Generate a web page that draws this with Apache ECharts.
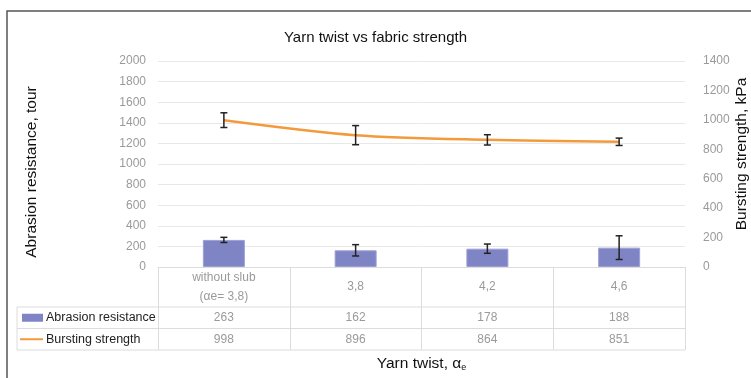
<!DOCTYPE html>
<html>
<head>
<meta charset="utf-8">
<script src="https://cdn.jsdelivr.net/npm/echarts@6/dist/echarts.min.js"></script>
<style>
  html, body { margin: 0; padding: 0; background: #fff; }
  #chart { width: 751px; height: 378px; }
</style>
</head>
<body>
<div id="chart"></div>
<script>
// Yarn twist categories and measured values
var categories = ['without slub\n(αe= 3,8)', '3,8', '4,2', '4,6'];
var abrasion = [263, 162, 178, 188];          // tour
var abrasionErr = [25, 55, 45, 115];          // ± error
var bursting = [998, 896, 864, 851];          // kPa
var burstingErr = [50, 65, 35, 25];           // ± error
var leftTicks = { min: 0, max: 2000, interval: 200 };
var rightTicks = { min: 0, max: 1400, interval: 200 };

var FONT = 'Liberation Sans, Arial, sans-serif';
var BAR_COLOR = '#7f84c4';
var LINE_COLOR = '#f29a3c';
var TABLE_LINE = '#dcdcdc';

function errData(vals, errs) {
  return vals.map(function (v, i) { return [i, v - errs[i], v + errs[i]]; });
}

function errRender(params, api) {
  var x = api.value(0);
  var lo = api.coord([x, api.value(1)]);
  var hi = api.coord([x, api.value(2)]);
  var half = 3.5;
  var st = { stroke: '#222', lineWidth: 1.5 };
  return {
    type: 'group',
    children: [
      { type: 'line', shape: { x1: lo[0], y1: lo[1], x2: hi[0], y2: hi[1] }, style: st },
      { type: 'line', shape: { x1: lo[0] - half, y1: lo[1], x2: lo[0] + half, y2: lo[1] }, style: st },
      { type: 'line', shape: { x1: hi[0] - half, y1: hi[1], x2: hi[0] + half, y2: hi[1] }, style: st }
    ]
  };
}

function plain(v) { return String(v); }

var chart = echarts.init(document.getElementById('chart'), null, { renderer: 'canvas' });

var option = {
  animation: false,
  backgroundColor: '#fff',
  textStyle: { fontFamily: FONT },
  title: {
    text: 'Yarn twist vs fabric strength',
    left: 'center',
    top: 25,
    textStyle: { fontFamily: FONT, fontSize: 15, fontWeight: 'normal', color: '#111' }
  },
  grid: { left: 158, right: 66, top: 61, bottom: 111, containLabel: false, outerBoundsMode: 'none' },
  xAxis: {
    type: 'category',
    data: categories,
    axisLine: { lineStyle: { color: TABLE_LINE } },
    axisTick: { show: true, length: 83, interval: 0, lineStyle: { color: TABLE_LINE } },
    axisLabel: {
      color: '#9a9a9a', fontSize: 12, fontFamily: FONT, lineHeight: 19, margin: 20,
      verticalAlign: 'middle', interval: 0
    },
    name: 'Yarn twist, α{sub|e}',
    nameLocation: 'middle',
    nameGap: 88,
    nameMoveOverlap: false,
    nameTextStyle: {
      fontFamily: FONT, fontSize: 15.5, color: '#111',
      rich: { sub: { fontSize: 9, verticalAlign: 'bottom', padding: [8, 0, 0, 0], color: '#111' } }
    }
  },
  yAxis: [
    {
      type: 'value',
      min: leftTicks.min, max: leftTicks.max, interval: leftTicks.interval,
      axisLine: { show: false }, axisTick: { show: false },
      axisLabel: { color: '#9a9a9a', fontSize: 12, fontFamily: FONT, margin: 12, formatter: plain },
      splitLine: { lineStyle: { color: '#e8e8e8' } },
      name: 'Abrasion resistance, tour',
      nameLocation: 'middle',
      nameGap: 118,
      nameMoveOverlap: false,
      nameTextStyle: { fontFamily: FONT, fontSize: 15.5, color: '#111', padding: [0, 16, 0, 0] }
    },
    {
      type: 'value',
      min: rightTicks.min, max: rightTicks.max, interval: rightTicks.interval,
      axisLine: { show: false }, axisTick: { show: false },
      axisLabel: { color: '#9a9a9a', fontSize: 12, fontFamily: FONT, margin: 18, formatter: plain },
      splitLine: { show: false },
      name: 'Bursting strength, kPa',
      nameLocation: 'middle',
      nameGap: 49,
      nameRotate: 90,
      nameMoveOverlap: false,
      nameTextStyle: { fontFamily: FONT, fontSize: 15.5, color: '#111', padding: [0, 0, 0, 20] }
    }
  ],
  series: [
    {
      name: 'Abrasion resistance',
      type: 'bar',
      data: abrasion,
      barWidth: 42,
      itemStyle: { color: BAR_COLOR, borderColor: '#9ca0d6', borderWidth: 1 },
      z: 2
    },
    {
      name: 'Bursting strength',
      type: 'line',
      yAxisIndex: 1,
      data: bursting,
      smooth: 0.3,
      symbol: 'none',
      lineStyle: { color: LINE_COLOR, width: 2.5 },
      z: 3
    },
    {
      type: 'custom',
      renderItem: errRender,
      data: errData(abrasion, abrasionErr),
      encode: { x: 0, y: [1, 2] },
      z: 5
    },
    {
      type: 'custom',
      yAxisIndex: 1,
      renderItem: errRender,
      data: errData(bursting, burstingErr),
      encode: { x: 0, y: [1, 2] },
      z: 5
    }
  ]
};

chart.setOption(option);

// Data table beneath the category axis, placed from the axis scale
function buildTable() {
  var g = [];
  var base = chart.convertToPixel({ yAxisIndex: 0 }, 0);
  var x0 = chart.convertToPixel({ xAxisIndex: 0 }, 0);
  var step = chart.convertToPixel({ xAxisIndex: 0 }, 1) - x0;
  var xLeft = x0 - step / 2;
  var xRight = xLeft + step * categories.length;
  var tableLeft = 17;
  var row1 = base + 40, row2 = row1 + 21.5, row3 = row2 + 21.5;

  [row1, row2, row3].forEach(function (y) {
    g.push({ type: 'line', shape: { x1: tableLeft, y1: y, x2: xRight, y2: y }, style: { stroke: TABLE_LINE, lineWidth: 1 }, silent: true });
  });
  g.push({ type: 'line', shape: { x1: tableLeft, y1: row1, x2: tableLeft, y2: row3 }, style: { stroke: TABLE_LINE, lineWidth: 1 }, silent: true });

  var rows = [
    { vals: abrasion, y: (row1 + row2) / 2 },
    { vals: bursting, y: (row2 + row3) / 2 }
  ];
  rows.forEach(function (r) {
    r.vals.forEach(function (v, i) {
      var cx = chart.convertToPixel({ xAxisIndex: 0 }, i);
      g.push({
        type: 'text', x: cx, y: r.y,
        style: { text: String(v), fill: '#9a9a9a', font: '12px ' + FONT, textAlign: 'center', textVerticalAlign: 'middle' },
        silent: true
      });
    });
  });

  // legend keys inside the table
  g.push({ type: 'rect', shape: { x: 22, y: rows[0].y - 4, width: 21, height: 8 }, style: { fill: BAR_COLOR }, silent: true });
  g.push({ type: 'text', x: 46, y: rows[0].y, style: { text: 'Abrasion resistance', fill: '#222', font: '12.5px ' + FONT, textVerticalAlign: 'middle' }, silent: true });
  g.push({ type: 'line', shape: { x1: 20, y1: rows[1].y, x2: 43, y2: rows[1].y }, style: { stroke: LINE_COLOR, lineWidth: 2 }, silent: true });
  g.push({ type: 'text', x: 46, y: rows[1].y, style: { text: 'Bursting strength', fill: '#222', font: '12.5px ' + FONT, textVerticalAlign: 'middle' }, silent: true });

  // outer frame
  g.push({ type: 'rect', shape: { x: 7, y: 11, width: 800, height: 400 }, style: { fill: 'none', stroke: '#555', lineWidth: 1.5 }, silent: true, z: 100 });

  chart.setOption({ graphic: g });
}
buildTable();
</script>
</body>
</html>
